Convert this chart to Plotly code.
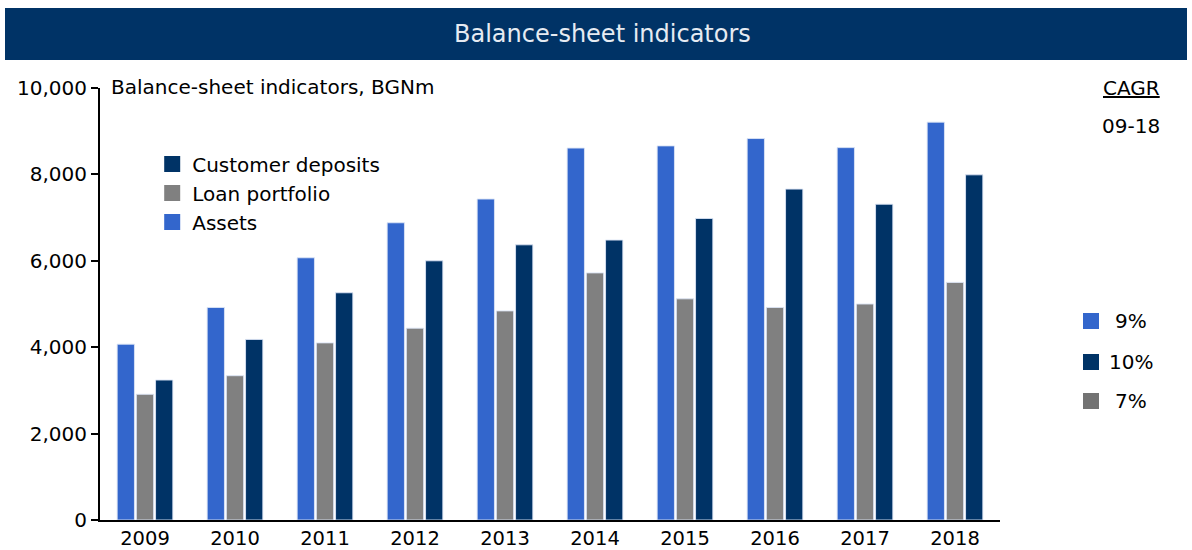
import plotly.graph_objects as go

years = ["2009", "2010", "2011", "2012", "2013", "2014", "2015", "2016", "2017", "2018"]
assets = [4070, 4920, 6070, 6880, 7430, 8610, 8660, 8830, 8620, 9210]
loans = [2910, 3340, 4100, 4440, 4840, 5720, 5120, 4920, 5000, 5500]
deposits = [3240, 4180, 5260, 6000, 6370, 6480, 6980, 7660, 7310, 7990]

series_names = ["Assets", "Loan portfolio", "Customer deposits"]
cagr_labels = ["9%", "10%", "7%"]
cagr_colors = ["#3366CC", "#003366", "#737373"]

FONT = "DejaVu Sans, Verdana, sans-serif"
C_ASSETS = "#3366CC"
C_LOANS = "#808080"
C_DEP = "#003366"
colors = [C_ASSETS, C_LOANS, C_DEP]

fig = go.Figure()
edge = dict(color="rgba(220,228,245,0.9)", width=1)
for name, vals, col in zip(series_names, [assets, loans, deposits], colors):
    fig.add_trace(go.Bar(x=years, y=vals, name=name, showlegend=False,
                         marker=dict(color=col, line=edge)))

# legend entries (larger square swatches), order as in reference
for name, col in reversed(list(zip(series_names, colors))):
    fig.add_trace(go.Scatter(x=[None], y=[None], mode="markers", name=name,
                             marker=dict(symbol="square", size=16, color=col),
                             showlegend=True, hoverinfo="skip"))

fig.update_layout(
    width=1192, height=550,
    margin=dict(l=100, r=192, t=88, b=30),
    paper_bgcolor="white", plot_bgcolor="white",
    barmode="group", bargap=0.36, bargroupgap=0.1,
    font=dict(family=FONT, size=20, color="black"),
    showlegend=True,
    legend=dict(x=0.058, y=0.869, xanchor="left", yanchor="top",
                traceorder="normal", bgcolor="rgba(0,0,0,0)",
                font=dict(size=20), itemsizing="trace", tracegroupgap=0),
    xaxis=dict(showline=True, linecolor="black", linewidth=2, ticks="",
               tickfont=dict(size=19.5), showgrid=False, automargin=False),
    yaxis=dict(range=[0, 10000], showline=True, linecolor="black", linewidth=2,
               ticks="outside", ticklen=7, tickwidth=2, tickcolor="black",
               tickvals=[0, 2000, 4000, 6000, 8000, 10000], tickformat=",d",
               showgrid=False, zeroline=False, tickfont=dict(size=20),
               automargin=False),
)

# title bar
fig.add_shape(type="rect", xref="paper", yref="paper",
              x0=(5-100)/900, x1=(1187-100)/900, y0=(520-60)/432, y1=(520-8)/432,
              fillcolor="#003366", line=dict(width=0), layer="above")
fig.add_annotation(text="Balance-sheet indicators", xref="paper", yref="paper",
                   x=(602-100)/900, y=(520-34)/432, xanchor="center", yanchor="middle",
                   showarrow=False, font=dict(family=FONT, size=24, color="#e6ebf2"))

# subtitle
fig.add_annotation(text="Balance-sheet indicators, BGNm", xref="paper", yref="paper",
                   x=(109-100)/900, y=(520-87)/432, xanchor="left", yanchor="middle",
                   showarrow=False, font=dict(family=FONT, size=20))

# CAGR header
fig.add_annotation(text="<u>CAGR</u>", xref="paper", yref="paper",
                   x=(1131-100)/900, y=(520-88)/432, xanchor="center", yanchor="middle",
                   showarrow=False, font=dict(family=FONT, size=20))
fig.add_annotation(text="09-18", xref="paper", yref="paper",
                   x=(1131-100)/900, y=(520-126)/432, xanchor="center", yanchor="middle",
                   showarrow=False, font=dict(family=FONT, size=20))

ys = [321, 362, 401]
for lab, col, yy in zip(cagr_labels, cagr_colors, ys):
    fig.add_shape(type="rect", xref="paper", yref="paper",
                  x0=(1083-100)/900, x1=(1099-100)/900,
                  y0=(520-yy-8)/432, y1=(520-yy+8)/432,
                  fillcolor=col, line=dict(width=0))
    fig.add_annotation(text=lab, xref="paper", yref="paper",
                       x=(1131-100)/900, y=(520-yy)/432, xanchor="center", yanchor="middle",
                       showarrow=False, font=dict(family=FONT, size=20))

fig.write_html("out.html", config={"displayModeBar": False},
               post_script="document.body.style.margin='0';")
